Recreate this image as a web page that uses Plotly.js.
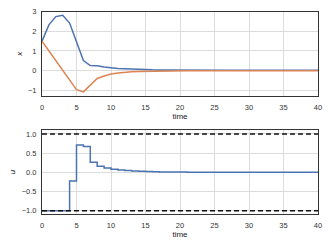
<!DOCTYPE html>
<html>
<head>
<meta charset="utf-8">
<script src="https://cdn.plot.ly/plotly-3.0.1.min.js"></script>
<style>html,body{margin:0;padding:0;background:#fff;}#chart{width:332px;height:249px;}</style>
</head>
<body>
<div id="chart"></div>
<script>
const time = [];
for (let k = 0; k <= 40; k++) time.push(k);
const x1 = [1.5, 2.33, 2.75, 2.82, 2.42, 1.45, 0.51, 0.26, 0.25, 0.19, 0.14, 0.11, 0.09, 0.07, 0.055, 0.045, 0.04, 0.035, 0.03, 0.03, 0.025,
  0.025, 0.025, 0.02, 0.02, 0.02, 0.02, 0.02, 0.02, 0.02, 0.02, 0.02, 0.02, 0.02, 0.02, 0.02, 0.02, 0.02, 0.02, 0.02, 0.02];
const x2 = [1.5, 1.0, 0.5, 0.0, -0.5, -0.97, -1.08, -0.74, -0.4, -0.27, -0.17, -0.12, -0.08, -0.06, -0.045, -0.035, -0.025, -0.02, -0.015, -0.012, -0.01,
  -0.01, -0.01, -0.01, -0.01, -0.01, -0.01, -0.01, -0.01, -0.01, -0.01, -0.01, -0.01, -0.01, -0.01, -0.01, -0.01, -0.01, -0.01, -0.01, -0.01];
const u = [-1, -1, -1, -1, -0.23, 0.71, 0.67, 0.26, 0.16, 0.11, 0.08, 0.06, 0.045, 0.035, 0.025, 0.02, 0.015, 0.01, 0.008, 0.006, 0.005,
  0.004, 0.003, 0.003, 0.002, 0.002, 0.002, 0.001, 0.001, 0.001, 0.001, 0.001, 0.001, 0.001, 0.001, 0.001, 0.001, 0.001, 0.001, 0.001, 0.001];
const uBounds = [1, -1];
const xTicks = [0, 5, 10, 15, 20, 25, 30, 35, 40];

const blue = '#4c72b0', orange = '#dd8452';
const traces = [
  {x: time, y: x1, type: 'scatter', mode: 'lines', line: {color: blue, width: 1.5}, xaxis: 'x', yaxis: 'y'},
  {x: time, y: x2, type: 'scatter', mode: 'lines', line: {color: orange, width: 1.5}, xaxis: 'x', yaxis: 'y'},
  {x: time, y: u, type: 'scatter', mode: 'lines', line: {color: blue, width: 1.5, shape: 'hv'}, xaxis: 'x2', yaxis: 'y2'}
];
uBounds.forEach(b => traces.push({x: [time[0], time[time.length - 1]], y: [b, b], type: 'scatter', mode: 'lines',
  line: {color: '#111', width: 1.5, dash: '5px,3px'}, xaxis: 'x2', yaxis: 'y2'}));

const tickFont = {family: 'Liberation Sans, Arial, sans-serif', size: 7.5, color: '#333'};
const labFont = {family: 'Liberation Sans, Arial, sans-serif', size: 8, color: '#222'};
const xa = (anchor) => ({range: [0, 40], tickvals: xTicks, showgrid: true, gridcolor: '#dcdcdc', gridwidth: 1,
  zeroline: false, showline: true, mirror: true, linecolor: '#333', linewidth: 1, ticks: 'outside', ticklen: 4,
  tickcolor: 'rgba(0,0,0,0)', tickfont: tickFont, anchor: anchor, title: {text: 'time', font: labFont, standoff: 2}});
const layout = {
  width: 332, height: 249, margin: {l: 42, r: 14, t: 0, b: 0}, showlegend: false,
  paper_bgcolor: '#fff', plot_bgcolor: '#fff',
  xaxis: xa('y'),
  xaxis2: xa('y2'),
  yaxis: {domain: [0.6145, 0.953], range: [-1.29, 3.0], tickvals: [-1, 0, 1, 2, 3], ticktext: ['−1', '0', '1', '2', '3'],
    showgrid: true, gridcolor: '#dcdcdc', zeroline: false, showline: true, mirror: true, linecolor: '#333', linewidth: 1,
    ticks: 'outside', ticklen: 3, tickcolor: 'rgba(0,0,0,0)', tickfont: tickFont,
    title: {text: '<i>x</i>', font: labFont, standoff: 4}},
  yaxis2: {domain: [0.1394, 0.479], range: [-1.095, 1.11], tickvals: [-1, -0.5, 0, 0.5, 1], ticktext: ['−1.0', '−0.5', '0.0', '0.5', '1.0'],
    showgrid: true, gridcolor: '#dcdcdc', zeroline: false, showline: true, mirror: true, linecolor: '#333', linewidth: 1,
    ticks: 'outside', ticklen: 3, tickcolor: 'rgba(0,0,0,0)', tickfont: tickFont,
    title: {text: '<i>u</i>', font: labFont, standoff: 4}}
};
Plotly.newPlot('chart', traces, layout, {staticPlot: true, displayModeBar: false});
</script>
</body>
</html>
